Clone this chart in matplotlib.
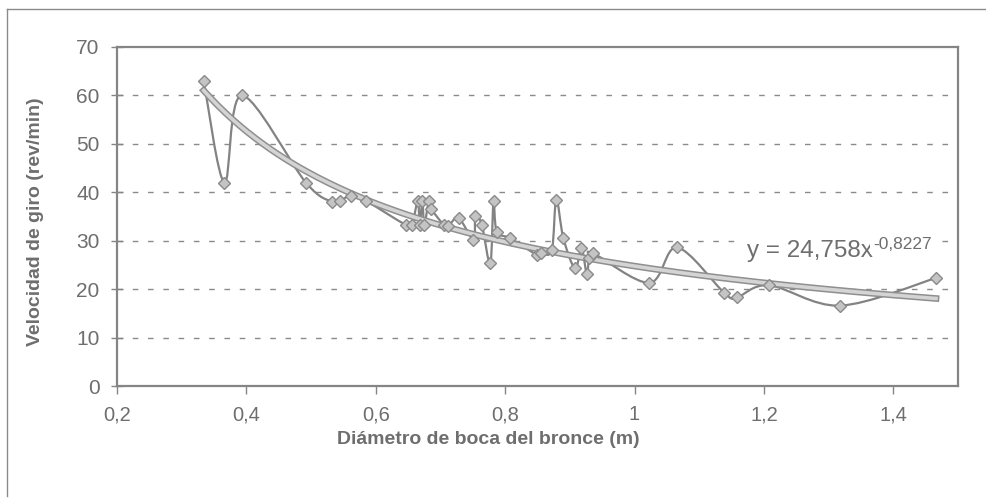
import numpy as np
import matplotlib
matplotlib.use('Agg')
import matplotlib.pyplot as plt
from matplotlib.path import Path
from matplotlib.patches import PathPatch
from matplotlib.lines import Line2D
import matplotlib.patheffects as pe

# diámetro de boca (m) y velocidad de giro (rev/min)
diametro = [0.334, 0.366, 0.393, 0.492, 0.533, 0.544, 0.562, 0.585, 0.646, 0.656,
            0.665, 0.668, 0.672, 0.675, 0.682, 0.686, 0.705, 0.712, 0.728, 0.751,
            0.754, 0.764, 0.777, 0.782, 0.787, 0.808, 0.849, 0.855, 0.872, 0.879,
            0.890, 0.908, 0.918, 0.926, 0.930, 0.936, 1.023, 1.066, 1.139, 1.158,
            1.208, 1.318, 1.466]
velocidad = [63.0, 42.0, 60.0, 42.0, 38.0, 38.2, 39.3, 38.2, 33.3, 33.3,
             38.2, 33.3, 38.2, 33.3, 38.2, 36.5, 33.3, 33.0, 34.7, 30.2,
             35.1, 33.3, 25.3, 38.2, 31.9, 30.5, 27.1, 27.5, 28.0, 38.5,
             30.5, 24.3, 28.5, 23.2, 26.5, 27.4, 21.3, 28.6, 19.2, 18.3,
             20.8, 16.6, 22.3]

# línea de tendencia potencial y = a * x^b
trend_a = 24.758
trend_b = -0.8227

x_ticks = [0.2, 0.4, 0.6, 0.8, 1.0, 1.2, 1.4]
x_labels = ['0,2', '0,4', '0,6', '0,8', '1', '1,2', '1,4']
y_ticks = [0, 10, 20, 30, 40, 50, 60, 70]

plt.rcParams['font.family'] = ['Liberation Sans', 'DejaVu Sans']
txt = '#6e6e6e'
edge = '#858585'

fig = plt.figure(figsize=(9.86, 5.0), dpi=100)
ax = fig.add_axes([117 / 986, 1 - 386 / 500, (958 - 117) / 986, (386 - 47) / 500])

ax.set_xlim(0.2, 1.5)
ax.set_ylim(0, 70)

for g in y_ticks[1:-1]:
    ax.axhline(g, color='#8a8a8a', lw=1.0, ls=(0, (4, 7)), zorder=1)


def smooth_path(xs, ys):
    # curva suavizada estilo Excel (Catmull-Rom como Bezier cúbico)
    p = np.column_stack([xs, ys])
    n = len(p)
    verts = [p[0]]
    codes = [Path.MOVETO]
    for i in range(n - 1):
        p0 = p[i - 1] if i > 0 else p[i]
        p1 = p[i]
        p2 = p[i + 1]
        p3 = p[i + 2] if i + 2 < n else p[i + 1]
        verts += [p1 + (p2 - p0) / 6, p2 - (p3 - p1) / 6, p2]
        codes += [Path.CURVE4] * 3
    return Path(verts, codes)


series = PathPatch(smooth_path(diametro, velocidad), fill=False,
                   edgecolor='#838383', lw=1.6, zorder=3)
ax.add_patch(series)

xt = np.linspace(min(diametro), max(diametro), 200)
ax.plot(xt, trend_a * xt ** trend_b, color='#d4d4d4', lw=2.6, zorder=4,
        path_effects=[pe.Stroke(linewidth=4.8, foreground='#8f8f8f'), pe.Normal()])

ax.plot(diametro, velocidad, ls='none', marker='D', ms=6.5,
        mfc='#c4c4c4', mec='#8a8a8a', mew=1.0, zorder=5)

t = ax.text(1.174, 26.6, 'y = 24,758x', fontsize=17.5, color=txt,
            ha='left', va='baseline', zorder=2,
            bbox=dict(boxstyle='square,pad=0.25', fc='white', ec='none'))
ax.annotate('-0,8227', xy=(1.0, 0.47), xycoords=t, fontsize=12.5,
            color=txt, ha='left', va='bottom', zorder=2,
            bbox=dict(boxstyle='square,pad=0.15', fc='white', ec='none'))

for s in ax.spines.values():
    s.set_color(edge)
    s.set_linewidth(1.6)

ax.set_xticks(x_ticks)
ax.set_xticklabels(x_labels)
ax.set_yticks(y_ticks)
ax.tick_params(axis='x', direction='out', length=6, width=1, color=edge,
               labelsize=14.5, labelcolor=txt, pad=8)
ax.tick_params(axis='y', direction='inout', length=9, width=1, color=edge,
               labelsize=15, labelcolor=txt, pad=8)

ax.set_xlabel('Diámetro de boca del bronce (m)', fontsize=14, fontweight='bold',
              color=txt, va='center')
ax.set_ylabel('Velocidad de giro (rev/min)', fontsize=14, fontweight='bold',
              color=txt, va='center')
ax.xaxis.set_label_coords(0.442, -0.159)
ax.yaxis.set_label_coords(-0.0975, 0.484)

# marco exterior del gráfico
fig.add_artist(Line2D([7 / 986, 7 / 986], [1 - 496 / 500, 1 - 9 / 500],
                      transform=fig.transFigure, color='#8a8a8a', lw=1.0))
fig.add_artist(Line2D([7 / 986, 1.0], [1 - 9 / 500, 1 - 9 / 500],
                      transform=fig.transFigure, color='#8a8a8a', lw=1.0))

fig.savefig('out.png', dpi=100)
